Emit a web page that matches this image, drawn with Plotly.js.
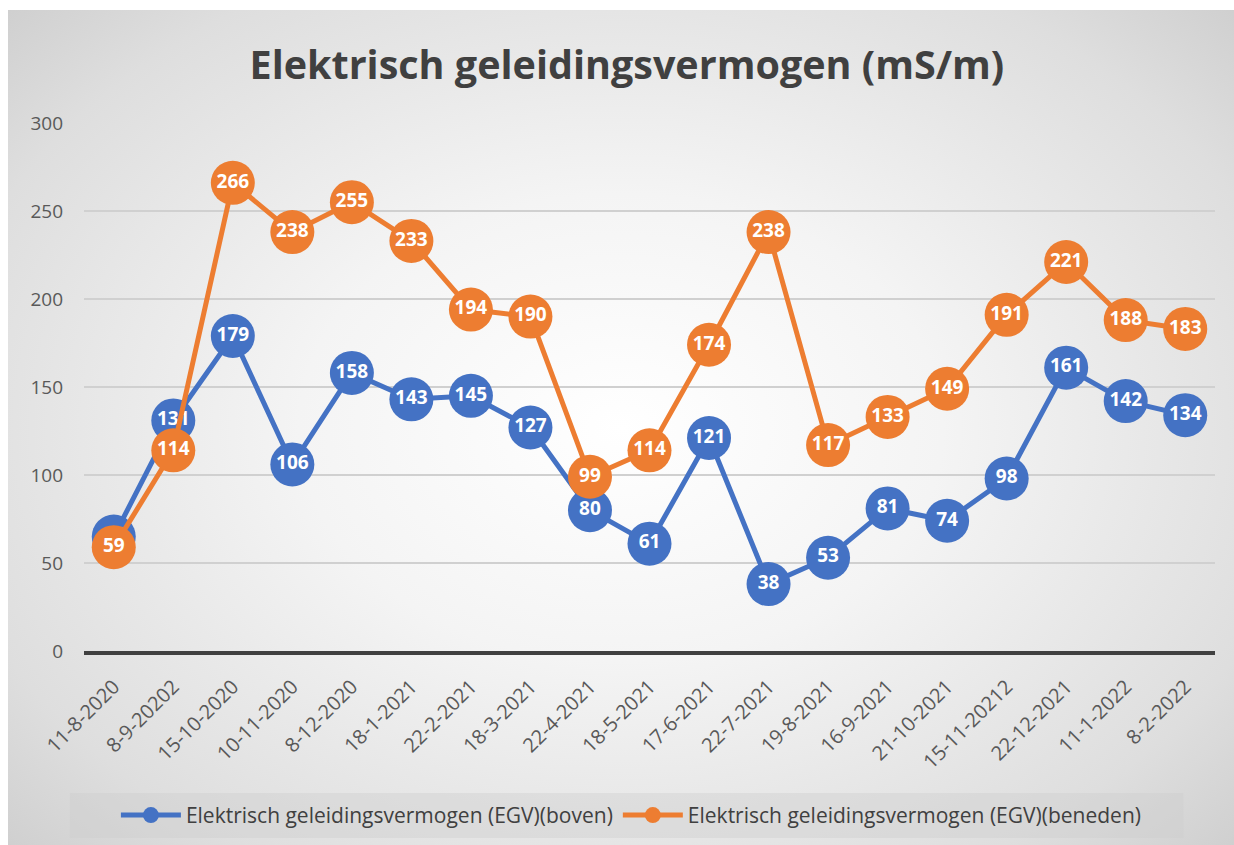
<!DOCTYPE html>
<html>
<head>
<meta charset="utf-8">
<script src="https://cdn.plot.ly/plotly-3.0.1.min.js"></script>
<style>
html,body{margin:0;padding:0;background:#fff;width:1234px;height:845px;overflow:hidden;}
#bg{position:absolute;left:8px;top:10px;width:1226px;height:835px;
background:radial-gradient(ellipse 75% 80% at 50% 50%, #ffffff 0%, #f4f4f4 35%, #dedede 75%, #c8c8c8 100%);}
#chart{position:absolute;left:0;top:0;width:1234px;height:845px;}
</style>
</head>
<body>
<div id="bg"></div>
<div id="chart"></div>
<script>
const categories = ["11-8-2020","8-9-20202","15-10-2020","10-11-2020","8-12-2020","18-1-2021","22-2-2021","18-3-2021","22-4-2021","18-5-2021","17-6-2021","22-7-2021","19-8-2021","16-9-2021","21-10-2021","15-11-20212","22-12-2021","11-1-2022","8-2-2022"];
const boven = [65,131,179,106,158,143,145,127,80,61,121,38,53,81,74,98,161,142,134];
const beneden = [59,114,266,238,255,233,194,190,99,114,174,238,117,133,149,191,221,188,183];
const nameBoven = "Elektrisch geleidingsvermogen (EGV)(boven)";
const nameBeneden = "Elektrisch geleidingsvermogen (EGV)(beneden)";
const font = 'Open Sans, sans-serif';

function mk(y, name, color){
  return {
    x: categories, y: y, name: name, type: 'scatter', mode: 'lines+markers+text',
    line: {color: color, width: 5},
    marker: {color: color, size: 44},
    text: y.map(String), textposition: 'middle center',
    textfont: {family: font, size: 19, color: '#ffffff', weight: 'bold'},
    cliponaxis: false
  };
}
const data = [mk(boven, nameBoven, '#4472C4'), mk(beneden, nameBeneden, '#ED7D31')];
const layout = {
  width: 1234, height: 845,
  paper_bgcolor: 'rgba(0,0,0,0)', plot_bgcolor: 'rgba(0,0,0,0)',
  margin: {l: 84, r: 19, t: 123, b: 194},
  title: {text: 'Elektrisch geleidingsvermogen (mS/m)', x: 0.508, xanchor: 'center', y: 0.923, yanchor: 'middle',
    font: {family: font, size: 39.5, color: '#404040', weight: 'bold'}},
  xaxis: {type: 'category', range: [-0.5, categories.length - 0.5], tickangle: -45, showgrid: false, zeroline: false,
    showline: true, linecolor: '#404040', linewidth: 4,
    tickfont: {family: font, size: 20, color: '#595959'},
    ticks: '', ticklabelstandoff: 12, ticklabelshift: 0, automargin: false},
  yaxis: {range: [0, 300], dtick: 50, showgrid: true, gridcolor: '#d0d0d0', gridwidth: 1.5,
    zeroline: false, showline: false, ticks: '', ticklabelstandoff: 20,
    tickfont: {family: font, size: 19, color: '#595959'}, automargin: false},
  shapes: [{type: 'rect', xref: 'paper', yref: 'paper', x0: -0.0124, x1: 0.972,
    y0: -0.354, y1: -0.269, fillcolor: 'rgba(205,205,205,0.4)', line: {width: 0}, layer: 'below'}],
  showlegend: true,
  legend: {orientation: 'h', x: 0.484, xanchor: 'center', y: 0.035, yanchor: 'middle', yref: 'container',
    bgcolor: 'rgba(0,0,0,0)', borderwidth: 0,
    font: {family: font, size: 21, color: '#404040'},
    itemwidth: 60, traceorder: 'normal'}
};
Plotly.newPlot('chart', data, layout, {displayModeBar: false, staticPlot: true});
</script>
</body>
</html>
